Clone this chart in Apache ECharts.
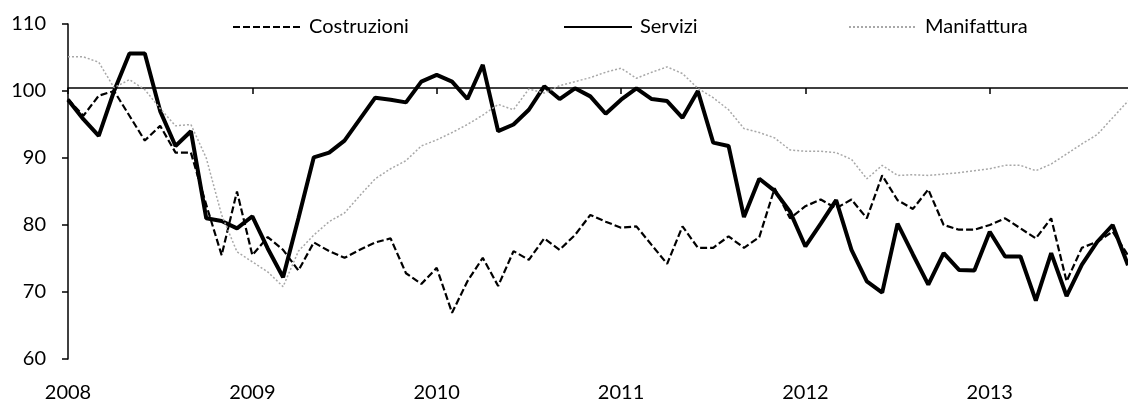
<!DOCTYPE html>
<html>
<head>
<meta charset="utf-8">
<script src="https://cdn.jsdelivr.net/npm/echarts@6/dist/echarts.min.js"></script>
<style>
  html, body { margin: 0; padding: 0; background: #fff; }
  #chart { width: 1128px; height: 403px; }
</style>
</head>
<body>
<div id="chart"></div>
<script>
// anni sull'asse x (un'etichetta ogni gennaio)
const years = ['2008', '2009', '2010', '2011', '2012', '2013']

// valori mensili da gen 2008 a ott 2013
const costruzioni = [
  98.8, 96.3, 99.3, 100, 96.3, 92.6, 94.8, 90.8, 90.8, 83, 75.5, 85,
  75.5, 78.2, 76.3, 73.2, 77.4, 76.1, 75.1, 76.3, 77.4, 78, 72.8, 71.2,
  73.6, 66.9, 71.6, 75.1, 70.9, 76.1, 74.8, 78, 76.3, 78.5, 81.5, 80.5,
  79.6, 79.8, 77, 74.2, 79.8, 76.6, 76.6, 78.3, 76.6, 78.2, 85.5, 81,
  82.8, 83.8, 82.5, 83.8, 81, 87.4, 83.7, 82.4, 85.3, 80, 79.3, 79.3,
  80, 81, 79.5, 78, 81, 71.6, 76.6, 77.5, 79, 75.5,
]
const servizi = [
  98.7, 95.8, 93.3, 100, 105.6, 105.6, 97, 91.8, 94, 81, 80.6, 79.5,
  81.3, 76.5, 72.2, 81, 90.1, 90.8, 92.6, 95.8, 99, 98.7, 98.3, 101.4,
  102.4, 101.4, 98.8, 103.9, 94, 95, 97.2, 100.7, 98.8, 100.4, 99.2, 96.6,
  98.7, 100.4, 98.8, 98.5, 96, 100, 92.3, 91.8, 81.2, 86.9, 85.1, 82,
  76.8, 80.2, 83.7, 76.3, 71.6, 69.9, 80.2, 75.6, 71.1, 75.8, 73.3, 73.2,
  79, 75.3, 75.3, 68.7, 75.8, 69.4, 74.1, 77.5, 80, 74,
]
const manifattura = [
  105.1, 105.1, 104.3, 100.5, 101.7, 100.2, 97.4, 94.8, 95, 90, 81.5, 76,
  74.5, 73, 70.8, 76.1, 78.5, 80.5, 81.8, 84.4, 86.9, 88.4, 89.6, 91.8,
  92.7, 93.8, 95, 96.4, 98, 97.2, 100.3, 99.7, 100.8, 101.4, 102, 102.8,
  103.4, 101.9, 102.8, 103.6, 102.6, 100.4, 99, 97.2, 94.4, 93.8, 93, 91.2,
  91, 91, 90.8, 89.8, 86.9, 88.9, 87.4, 87.5, 87.4, 87.6, 87.8, 88.1,
  88.4, 88.9, 88.9, 88.1, 89.1, 90.6, 92.1, 93.5, 96, 98.5,
]

const months = costruzioni.map((_, i) => {
  const y = years[0] * 1 + Math.floor(i / 12)
  const m = (i % 12) + 1
  return y + '-' + (m < 10 ? '0' + m : m)
})

const font = 'Lato, "DejaVu Sans", sans-serif'
const isJan = (i) => i % 12 === 0

const chart = echarts.init(document.getElementById('chart'), null, { renderer: 'canvas' })

const legendBase = {
  top: 12,
  itemWidth: 68,
  itemHeight: 14,
  itemStyle: { opacity: 0 }, // niente pallino, solo la linea
  textStyle: { fontFamily: font, fontSize: 20, color: '#000', padding: [0, 0, 0, 3] },
}

chart.setOption({
  animation: false,
  backgroundColor: '#fff',
  legend: [
    { ...legendBase, left: 227, data: ['Costruzioni'] },
    { ...legendBase, left: 558, data: ['Servizi'] },
    { ...legendBase, left: 843, data: ['Manifattura'] },
  ],
  grid: {
    left: 68,
    right: -8,
    top: 24,
    bottom: 40,
  },
  xAxis: [
    {
      type: 'category',
      data: months,
      boundaryGap: false,
      axisLine: { show: false },
      axisTick: { show: false },
      splitLine: { show: false },
      axisLabel: {
        interval: (i) => isJan(i),
        formatter: (v) => v.slice(0, 4),
        fontFamily: font,
        fontSize: 20,
        color: '#000',
        margin: 24,
      },
    },
    {
      // asse che incrocia a 100
      type: 'category',
      data: months,
      boundaryGap: false,
      position: 'bottom',
      offset: -271,
      axisLine: { show: true, lineStyle: { color: '#000', width: 1.5 } },
      axisTick: { show: true, interval: (i) => isJan(i), length: 6, lineStyle: { color: '#000', width: 1.5 } },
      axisLabel: { show: false },
      splitLine: { show: false },
    },
  ],
  yAxis: {
    type: 'value',
    min: 60,
    max: 110,
    interval: 10,
    axisLine: { show: true, lineStyle: { color: '#000', width: 1.5 } },
    axisTick: { show: true, length: 6, lineStyle: { color: '#000', width: 1.5 } },
    splitLine: { show: false },
    axisLabel: { fontFamily: font, fontSize: 20, color: '#000', margin: 22 },
  },
  series: [
    {
      name: 'Costruzioni',
      type: 'line',
      data: costruzioni,
      symbol: 'none',
      color: '#000',
      lineStyle: { color: '#000', width: 2.2, type: [7, 3] },
    },
    {
      name: 'Servizi',
      type: 'line',
      data: servizi,
      symbol: 'none',
      color: '#000',
      lineStyle: { color: '#000', width: 4 },
    },
    {
      name: 'Manifattura',
      type: 'line',
      data: manifattura,
      symbol: 'none',
      color: '#a8a8a8',
      lineStyle: { color: '#a8a8a8', width: 1.5, type: [2, 2] },
    },
  ],
})
</script>
</body>
</html>
